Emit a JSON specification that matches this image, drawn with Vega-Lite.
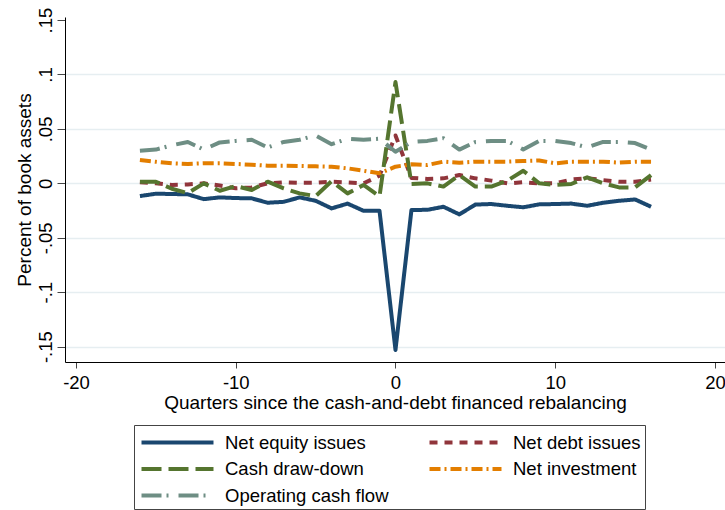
{
  "$schema": "https://vega.github.io/schema/vega-lite/v6.json",
  "autosize": {"type": "none"},
  "padding": {"left": 65, "top": 17, "right": 0, "bottom": 148},
  "width": 660,
  "height": 345,
  "background": "white",
  "config": {
    "view": {"stroke": null},
    "font": "Liberation Sans",
    "axis": {"domainColor": "#000", "tickColor": "#444", "labelColor": "#000", "titleColor": "#000", "titleFontWeight": "normal"},
    "legend": {
      "labelColor": "#000", "orient": "none", "legendX": 69, "legendY": 408,
      "direction": "horizontal",
      "columns": 2, "columnPadding": 32, "rowPadding": 3.5, "padding": 4,
      "strokeColor": "#444", "symbolType": "M-3.13,0H3.13", "symbolSize": 529,
      "symbolOffset": 26, "symbolStrokeWidth": 4, "labelFontSize": 18.5,
      "labelOffset": 34, "labelLimit": 400
    }
  },
  "data": {
    "values": [
      {"q": -16, "s": "Net equity issues", "v": -0.0117},
      {"q": -15, "s": "Net equity issues", "v": -0.0095},
      {"q": -14, "s": "Net equity issues", "v": -0.0098},
      {"q": -13, "s": "Net equity issues", "v": -0.0101},
      {"q": -12, "s": "Net equity issues", "v": -0.0145},
      {"q": -11, "s": "Net equity issues", "v": -0.0129},
      {"q": -10, "s": "Net equity issues", "v": -0.0135},
      {"q": -9, "s": "Net equity issues", "v": -0.0138},
      {"q": -8, "s": "Net equity issues", "v": -0.0178},
      {"q": -7, "s": "Net equity issues", "v": -0.017},
      {"q": -6, "s": "Net equity issues", "v": -0.0129},
      {"q": -5, "s": "Net equity issues", "v": -0.016},
      {"q": -4, "s": "Net equity issues", "v": -0.023},
      {"q": -3, "s": "Net equity issues", "v": -0.0186},
      {"q": -2, "s": "Net equity issues", "v": -0.0252},
      {"q": -1, "s": "Net equity issues", "v": -0.0252},
      {"q": 0, "s": "Net equity issues", "v": -0.153},
      {"q": 1, "s": "Net equity issues", "v": -0.0245},
      {"q": 2, "s": "Net equity issues", "v": -0.0243},
      {"q": 3, "s": "Net equity issues", "v": -0.0215},
      {"q": 4, "s": "Net equity issues", "v": -0.0285},
      {"q": 5, "s": "Net equity issues", "v": -0.0195},
      {"q": 6, "s": "Net equity issues", "v": -0.019},
      {"q": 7, "s": "Net equity issues", "v": -0.0206},
      {"q": 8, "s": "Net equity issues", "v": -0.022},
      {"q": 9, "s": "Net equity issues", "v": -0.0193},
      {"q": 10, "s": "Net equity issues", "v": -0.019},
      {"q": 11, "s": "Net equity issues", "v": -0.0186},
      {"q": 12, "s": "Net equity issues", "v": -0.0206},
      {"q": 13, "s": "Net equity issues", "v": -0.0178},
      {"q": 14, "s": "Net equity issues", "v": -0.016},
      {"q": 15, "s": "Net equity issues", "v": -0.0148},
      {"q": 16, "s": "Net equity issues", "v": -0.0215},

      {"q": -16, "s": "Net debt issues", "v": 0.001},
      {"q": -15, "s": "Net debt issues", "v": 0.0},
      {"q": -14, "s": "Net debt issues", "v": -0.0015},
      {"q": -13, "s": "Net debt issues", "v": -0.001},
      {"q": -12, "s": "Net debt issues", "v": 0.0},
      {"q": -11, "s": "Net debt issues", "v": -0.002},
      {"q": -10, "s": "Net debt issues", "v": -0.0045},
      {"q": -9, "s": "Net debt issues", "v": -0.0037},
      {"q": -8, "s": "Net debt issues", "v": 0.0},
      {"q": -7, "s": "Net debt issues", "v": 0.001},
      {"q": -6, "s": "Net debt issues", "v": 0.0005},
      {"q": -5, "s": "Net debt issues", "v": 0.0005},
      {"q": -4, "s": "Net debt issues", "v": 0.0015},
      {"q": -3, "s": "Net debt issues", "v": 0.0008},
      {"q": -2, "s": "Net debt issues", "v": 0.0},
      {"q": -1, "s": "Net debt issues", "v": 0.007},
      {"q": 0, "s": "Net debt issues", "v": 0.044},
      {"q": 1, "s": "Net debt issues", "v": 0.005},
      {"q": 2, "s": "Net debt issues", "v": 0.004},
      {"q": 3, "s": "Net debt issues", "v": 0.0046},
      {"q": 4, "s": "Net debt issues", "v": 0.0076},
      {"q": 5, "s": "Net debt issues", "v": 0.0046},
      {"q": 6, "s": "Net debt issues", "v": 0.0025},
      {"q": 7, "s": "Net debt issues", "v": 0.0},
      {"q": 8, "s": "Net debt issues", "v": 0.001},
      {"q": 9, "s": "Net debt issues", "v": 0.0},
      {"q": 10, "s": "Net debt issues", "v": 0.0},
      {"q": 11, "s": "Net debt issues", "v": 0.0035},
      {"q": 12, "s": "Net debt issues", "v": 0.0046},
      {"q": 13, "s": "Net debt issues", "v": 0.003},
      {"q": 14, "s": "Net debt issues", "v": 0.0015},
      {"q": 15, "s": "Net debt issues", "v": 0.0015},
      {"q": 16, "s": "Net debt issues", "v": 0.0035},

      {"q": -16, "s": "Cash draw-down", "v": 0.0015},
      {"q": -15, "s": "Cash draw-down", "v": 0.0015},
      {"q": -14, "s": "Cash draw-down", "v": -0.005},
      {"q": -13, "s": "Cash draw-down", "v": -0.009},
      {"q": -12, "s": "Cash draw-down", "v": 0.0},
      {"q": -11, "s": "Cash draw-down", "v": -0.0068},
      {"q": -10, "s": "Cash draw-down", "v": -0.0025},
      {"q": -9, "s": "Cash draw-down", "v": -0.0061},
      {"q": -8, "s": "Cash draw-down", "v": 0.0015},
      {"q": -7, "s": "Cash draw-down", "v": -0.0046},
      {"q": -6, "s": "Cash draw-down", "v": -0.0092},
      {"q": -5, "s": "Cash draw-down", "v": -0.0117},
      {"q": -4, "s": "Cash draw-down", "v": 0.002},
      {"q": -3, "s": "Cash draw-down", "v": -0.0092},
      {"q": -2, "s": "Cash draw-down", "v": -0.0015},
      {"q": -1, "s": "Cash draw-down", "v": -0.012},
      {"q": 0, "s": "Cash draw-down", "v": 0.093},
      {"q": 1, "s": "Cash draw-down", "v": -0.0006},
      {"q": 2, "s": "Cash draw-down", "v": 0.0},
      {"q": 3, "s": "Cash draw-down", "v": -0.003},
      {"q": 4, "s": "Cash draw-down", "v": 0.0076},
      {"q": 5, "s": "Cash draw-down", "v": -0.003},
      {"q": 6, "s": "Cash draw-down", "v": -0.003},
      {"q": 7, "s": "Cash draw-down", "v": 0.0025},
      {"q": 8, "s": "Cash draw-down", "v": 0.0116},
      {"q": 9, "s": "Cash draw-down", "v": 0.0},
      {"q": 10, "s": "Cash draw-down", "v": -0.0015},
      {"q": 11, "s": "Cash draw-down", "v": -0.0006},
      {"q": 12, "s": "Cash draw-down", "v": 0.0055},
      {"q": 13, "s": "Cash draw-down", "v": 0.0},
      {"q": 14, "s": "Cash draw-down", "v": -0.0037},
      {"q": 15, "s": "Cash draw-down", "v": -0.0037},
      {"q": 16, "s": "Cash draw-down", "v": 0.0076},

      {"q": -16, "s": "Net investment", "v": 0.0214},
      {"q": -15, "s": "Net investment", "v": 0.0198},
      {"q": -14, "s": "Net investment", "v": 0.0184},
      {"q": -13, "s": "Net investment", "v": 0.0178},
      {"q": -12, "s": "Net investment", "v": 0.0184},
      {"q": -11, "s": "Net investment", "v": 0.0184},
      {"q": -10, "s": "Net investment", "v": 0.0178},
      {"q": -9, "s": "Net investment", "v": 0.0171},
      {"q": -8, "s": "Net investment", "v": 0.0162},
      {"q": -7, "s": "Net investment", "v": 0.0162},
      {"q": -6, "s": "Net investment", "v": 0.016},
      {"q": -5, "s": "Net investment", "v": 0.0156},
      {"q": -4, "s": "Net investment", "v": 0.0153},
      {"q": -3, "s": "Net investment", "v": 0.0138},
      {"q": -2, "s": "Net investment", "v": 0.0116},
      {"q": -1, "s": "Net investment", "v": 0.0092},
      {"q": 0, "s": "Net investment", "v": 0.0153},
      {"q": 1, "s": "Net investment", "v": 0.0175},
      {"q": 2, "s": "Net investment", "v": 0.0169},
      {"q": 3, "s": "Net investment", "v": 0.0199},
      {"q": 4, "s": "Net investment", "v": 0.019},
      {"q": 5, "s": "Net investment", "v": 0.0199},
      {"q": 6, "s": "Net investment", "v": 0.0199},
      {"q": 7, "s": "Net investment", "v": 0.0199},
      {"q": 8, "s": "Net investment", "v": 0.0205},
      {"q": 9, "s": "Net investment", "v": 0.021},
      {"q": 10, "s": "Net investment", "v": 0.0184},
      {"q": 11, "s": "Net investment", "v": 0.0199},
      {"q": 12, "s": "Net investment", "v": 0.0199},
      {"q": 13, "s": "Net investment", "v": 0.0199},
      {"q": 14, "s": "Net investment", "v": 0.019},
      {"q": 15, "s": "Net investment", "v": 0.0199},
      {"q": 16, "s": "Net investment", "v": 0.0199},

      {"q": -16, "s": "Operating cash flow", "v": 0.03},
      {"q": -15, "s": "Operating cash flow", "v": 0.031},
      {"q": -14, "s": "Operating cash flow", "v": 0.035},
      {"q": -13, "s": "Operating cash flow", "v": 0.038},
      {"q": -12, "s": "Operating cash flow", "v": 0.031},
      {"q": -11, "s": "Operating cash flow", "v": 0.0376},
      {"q": -10, "s": "Operating cash flow", "v": 0.039},
      {"q": -9, "s": "Operating cash flow", "v": 0.04},
      {"q": -8, "s": "Operating cash flow", "v": 0.033},
      {"q": -7, "s": "Operating cash flow", "v": 0.038},
      {"q": -6, "s": "Operating cash flow", "v": 0.04},
      {"q": -5, "s": "Operating cash flow", "v": 0.044},
      {"q": -4, "s": "Operating cash flow", "v": 0.036},
      {"q": -3, "s": "Operating cash flow", "v": 0.041},
      {"q": -2, "s": "Operating cash flow", "v": 0.04},
      {"q": -1, "s": "Operating cash flow", "v": 0.041},
      {"q": 0, "s": "Operating cash flow", "v": 0.029},
      {"q": 1, "s": "Operating cash flow", "v": 0.038},
      {"q": 2, "s": "Operating cash flow", "v": 0.039},
      {"q": 3, "s": "Operating cash flow", "v": 0.0415},
      {"q": 4, "s": "Operating cash flow", "v": 0.031},
      {"q": 5, "s": "Operating cash flow", "v": 0.038},
      {"q": 6, "s": "Operating cash flow", "v": 0.039},
      {"q": 7, "s": "Operating cash flow", "v": 0.039},
      {"q": 8, "s": "Operating cash flow", "v": 0.031},
      {"q": 9, "s": "Operating cash flow", "v": 0.039},
      {"q": 10, "s": "Operating cash flow", "v": 0.039},
      {"q": 11, "s": "Operating cash flow", "v": 0.037},
      {"q": 12, "s": "Operating cash flow", "v": 0.033},
      {"q": 13, "s": "Operating cash flow", "v": 0.038},
      {"q": 14, "s": "Operating cash flow", "v": 0.038},
      {"q": 15, "s": "Operating cash flow", "v": 0.037},
      {"q": 16, "s": "Operating cash flow", "v": 0.031}
    ]
  },
  "mark": {"type": "line", "strokeWidth": 4, "strokeJoin": "round", "strokeCap": "butt"},
  "encoding": {
    "x": {
      "field": "q", "type": "quantitative",
      "scale": {"domain": [-20.69, 20.63], "nice": false, "zero": false},
      "axis": {
        "title": "Quarters since the cash-and-debt financed rebalancing",
        "values": [-20, -10, 0, 10, 20],
        "labelExpr": "toString(datum.value)",
        "grid": false, "tickSize": 6, "labelFontSize": 18.5, "labelPadding": 5,
        "titleFontSize": 19, "titlePadding": 2, "labelFlush": false, "labelOverlap": false
      }
    },
    "y": {
      "field": "v", "type": "quantitative",
      "scale": {"domain": [-0.1641, 0.1528], "nice": false, "zero": false},
      "axis": {
        "title": "Percent of book assets",
        "values": [-0.15, -0.1, -0.05, 0, 0.05, 0.1, 0.15],
        "labelExpr": "replace(toString(datum.value), '0.', '.')",
        "labelAngle": -90, "labelAlign": "center", "labelBaseline": "alphabetic",
        "labelPadding": 6, "tickSize": 8, "labelFontSize": 18.5,
        "titleFontSize": 19, "titlePadding": 2, "labelFlush": false, "labelOverlap": false,
        "grid": true, "gridColor": "#e6eef1", "gridWidth": 1.5,
        "gridOpacity": {"condition": {"test": "datum.value > 0.14", "value": 0}, "value": 1}
      }
    },
    "color": {
      "field": "s", "type": "nominal",
      "scale": {
        "domain": ["Net equity issues", "Net debt issues", "Cash draw-down", "Net investment", "Operating cash flow"],
        "range": ["#1a476f", "#90353b", "#55752f", "#e37e00", "#6e8e84"]
      },
      "legend": {"title": null}
    },
    "strokeDash": {
      "field": "s", "type": "nominal",
      "scale": {
        "domain": ["Net equity issues", "Net debt issues", "Cash draw-down", "Net investment", "Operating cash flow"],
        "range": [[1, 0], [8, 7], [20, 7], [11, 4, 2, 4], [20, 5, 2, 10]]
      },
      "legend": {"title": null}
    },
    "order": {"field": "q", "type": "quantitative"}
  }
}
